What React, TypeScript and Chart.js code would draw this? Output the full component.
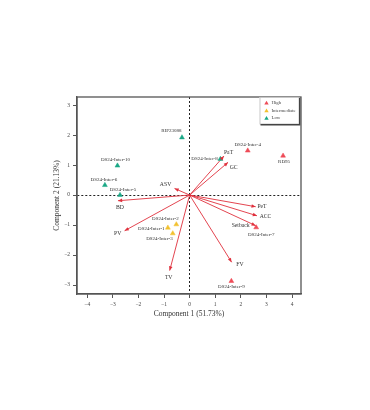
import { useEffect, useRef } from "react";
import { Chart, registerables } from "chart.js";

Chart.register(...registerables);

// ---------- data ----------
const groupNames = ["High", "Intermediate", "Low"];

const highNames = ["DS24-Inter-4", "RD95", "DS24-Inter-7", "DS24-Inter-9"];
const highX = [2.27, 3.65, 2.6, 1.63];
const highY = [1.48, 1.31, -1.08, -2.87];

const interNames = ["DS24-Inter-2", "DS24-Inter-1", "DS24-Inter-3"];
const interX = [-0.52, -0.85, -0.66];
const interY = [-0.98, -1.09, -1.28];

const lowNames = ["RIP23088", "DS24-Inter-10", "DS24-Inter-6", "DS24-Inter-5", "DS24-Inter-8"];
const lowX = [-0.3, -2.82, -3.31, -2.72, 1.2];
const lowY = [1.92, 0.98, 0.33, 0.0, 1.2];

const varNames = ["PaT", "GC", "ASV", "BD", "PV", "TV", "PeT", "ACC", "Setback", "FV"];
const varX = [1.34, 1.5, -0.59, -2.8, -2.54, -0.78, 2.58, 2.63, 2.58, 1.64];
const varY = [1.3, 1.09, 0.22, -0.19, -1.19, -2.52, -0.39, -0.69, -1.02, -2.24];

const xTitle = "Component 1 (51.73%)";
const yTitle = "Component 2 (21.13%)";

// ---------- styles / label placement ----------
const FONT = "'Liberation Serif', 'DejaVu Serif', serif";
const COLORS = ["#ee4b57", "#f2c12e", "#1aa886"];
const ARROW = "#e0303c";

type Place = [CanvasTextAlign, number, number];
const labelPlace: Record<string, Place> = {
  "DS24-Inter-10": ["center", -2, -5.5],
  "DS24-Inter-6": ["center", -1, -5.5],
  "DS24-Inter-5": ["center", 3, -5.5],
  RIP23088: ["right", -0.5, -6.5],
  "DS24-Inter-8": ["right", -2.5, 0],
  "DS24-Inter-4": ["center", 0, -5.7],
  RD95: ["center", 1, 5.6],
  "DS24-Inter-2": ["right", 2.3, -5.3],
  "DS24-Inter-1": ["right", -3.3, 0.6],
  "DS24-Inter-3": ["right", 0, 5.7],
  "DS24-Inter-7": ["center", 5, 7.5],
  "DS24-Inter-9": ["center", 0, 5.7],
  PaT: ["left", 0, -3.7],
  GC: ["left", 1.7, 5],
  ASV: ["right", -3.3, -4.3],
  BD: ["center", 2, 6.6],
  PV: ["right", -3.3, 2.6],
  TV: ["center", -1, 6.6],
  PeT: ["left", 1.7, -0.7],
  ACC: ["left", 2.7, 1],
  Setback: ["right", -6, 0],
  FV: ["left", 4.7, 2],
};

const minus = (v: number) => (v < 0 ? "\u2212" + Math.abs(v) : String(v));

const pts = (xs: number[], ys: number[]) => xs.map((x, i) => ({ x, y: ys[i] }));

const loadingSegments = () => {
  const out: any[] = [];
  varX.forEach((x, i) => {
    out.push({ x: 0, y: 0 }, { x, y: varY[i] }, { x: null, y: null });
  });
  return out;
};

const overlay = {
  id: "overlay",
  beforeDatasetsDraw(chart: any) {
    const { ctx, chartArea: a } = chart;
    ctx.save();
    ctx.strokeStyle = "#555";
    ctx.lineWidth = 1.3;
    ctx.strokeRect(a.left, a.top, a.right - a.left, a.bottom - a.top);
    ctx.restore();
  },
  afterDatasetsDraw(chart: any) {
    const { ctx } = chart;
    const xs = chart.scales.x;
    const ys = chart.scales.y;
    ctx.save();
    // arrow heads
    const ox = xs.getPixelForValue(0);
    const oy = ys.getPixelForValue(0);
    ctx.fillStyle = ARROW;
    varX.forEach((vx, i) => {
      const tx = xs.getPixelForValue(vx);
      const ty = ys.getPixelForValue(varY[i]);
      const ang = Math.atan2(ty - oy, tx - ox);
      const L = 4.2, W = 1.8;
      ctx.beginPath();
      ctx.moveTo(tx, ty);
      ctx.lineTo(tx - L * Math.cos(ang) + W * Math.sin(ang), ty - L * Math.sin(ang) - W * Math.cos(ang));
      ctx.lineTo(tx - L * Math.cos(ang) - W * Math.sin(ang), ty - L * Math.sin(ang) + W * Math.cos(ang));
      ctx.closePath();
      ctx.fill();
    });
    // variable labels
    ctx.fillStyle = "#333";
    ctx.textBaseline = "middle";
    ctx.font = `5.7px ${FONT}`;
    varNames.forEach((n, i) => {
      const p = labelPlace[n];
      ctx.textAlign = p[0];
      ctx.fillText(n, xs.getPixelForValue(varX[i]) + p[1], ys.getPixelForValue(varY[i]) + p[2]);
    });
    // point labels
    ctx.font = `5px ${FONT}`;
    const groups: [string[], number[], number[]][] = [
      [highNames, highX, highY],
      [interNames, interX, interY],
      [lowNames, lowX, lowY],
    ];
    groups.forEach(([names, gx, gy]) => {
      names.forEach((n, i) => {
        const p = labelPlace[n];
        ctx.textAlign = p[0];
        ctx.fillText(n, xs.getPixelForValue(gx[i]) + p[1], ys.getPixelForValue(gy[i]) + p[2]);
      });
    });
    ctx.restore();
  },
  afterDraw(chart: any) {
    const { ctx, chartArea: a } = chart;
    const w = 39, h = 26.5;
    const lx = a.right - w - 2.5, ly = a.top;
    ctx.save();
    ctx.fillStyle = "#fff";
    ctx.fillRect(lx, ly, w, h);
    ctx.strokeStyle = "#bbb";
    ctx.lineWidth = 0.8;
    ctx.strokeRect(lx + 0.5, ly + 0.5, w, h);
    ctx.strokeStyle = "#444";
    ctx.lineWidth = 1.4;
    ctx.beginPath();
    ctx.moveTo(lx + w + 1.2, ly + 1);
    ctx.lineTo(lx + w + 1.2, ly + h + 1.2);
    ctx.lineTo(lx + 1, ly + h + 1.2);
    ctx.stroke();
    ctx.font = `4.8px ${FONT}`;
    ctx.textBaseline = "middle";
    ctx.textAlign = "left";
    groupNames.forEach((g, i) => {
      const cy = ly + 6 + i * 7.6;
      const cx = lx + 7;
      ctx.fillStyle = COLORS[i];
      ctx.beginPath();
      ctx.moveTo(cx, cy - 2.2);
      ctx.lineTo(cx + 2.2, cy + 1.6);
      ctx.lineTo(cx - 2.2, cy + 1.6);
      ctx.closePath();
      ctx.fill();
      ctx.fillStyle = "#444";
      ctx.fillText(g, cx + 5, cy);
    });
    ctx.restore();
  },
};

export default function App() {
  const ref = useRef<HTMLCanvasElement | null>(null);
  useEffect(() => {
    if (!ref.current) return;
    const gridColor = (c: any) => (c.tick && c.tick.value === 0 ? "#222" : "rgba(0,0,0,0)");
    const chart = new Chart(ref.current, {
      type: "scatter",
      data: {
        datasets: [
          {
            label: "loadings",
            data: loadingSegments(),
            showLine: true,
            spanGaps: false,
            borderColor: ARROW,
            borderWidth: 0.9,
            pointRadius: 0,
            order: 2,
          } as any,
          {
            label: groupNames[0],
            data: pts(highX, highY),
            pointStyle: "triangle",
            pointRadius: 2.8,
            backgroundColor: COLORS[0],
            borderColor: COLORS[0],
            borderWidth: 0.5,
            order: 1,
          },
          {
            label: groupNames[1],
            data: pts(interX, interY),
            pointStyle: "triangle",
            pointRadius: 2.8,
            backgroundColor: COLORS[1],
            borderColor: COLORS[1],
            borderWidth: 0.5,
            order: 1,
          },
          {
            label: groupNames[2],
            data: pts(lowX, lowY),
            pointStyle: "triangle",
            pointRadius: 2.8,
            backgroundColor: COLORS[2],
            borderColor: COLORS[2],
            borderWidth: 0.5,
            order: 1,
          },
        ],
      },
      options: {
        responsive: false,
        animation: false,
        devicePixelRatio: 1,
        layout: { padding: { left: 40, top: 97, right: 69, bottom: 86 } },
        plugins: { legend: { display: false }, tooltip: { enabled: false } },
        scales: {
          x: {
            type: "linear",
            position: "bottom",
            min: -4.4,
            max: 4.35,
            afterFit: (s: any) => {
              s.height = 30;
            },
            ticks: {
              stepSize: 1,
              includeBounds: false,
              autoSkip: false,
              maxRotation: 0,
              padding: 3,
              color: "#444",
              font: { family: FONT, size: 5.5 },
              callback: (v: any) => minus(Number(v)),
            },
            grid: { color: gridColor, lineWidth: 1, tickColor: "#555", tickLength: 4, tickWidth: 1 },
            border: { display: true, color: "#555", width: 1.3, dash: [2, 2] },
            title: {
              display: true,
              text: xTitle,
              color: "#333",
              font: { family: FONT, size: 7.5 },
              padding: { top: 0, bottom: 5 },
            },
          },
          y: {
            type: "linear",
            position: "left",
            min: -3.3,
            max: 3.27,
            afterFit: (s: any) => {
              s.width = 37;
            },
            ticks: {
              stepSize: 1,
              includeBounds: false,
              autoSkip: false,
              padding: 3,
              color: "#444",
              font: { family: FONT, size: 5.5 },
              callback: (v: any) => minus(Number(v)),
            },
            grid: { color: gridColor, lineWidth: 1, tickColor: "#555", tickLength: 4, tickWidth: 1 },
            border: { display: true, color: "#555", width: 1.3, dash: [2, 2] },
            title: {
              display: true,
              text: yTitle,
              color: "#333",
              font: { family: FONT, size: 7.5 },
              padding: { top: 13, bottom: 0 },
            },
          },
        },
      },
      plugins: [overlay],
    } as any);
    return () => chart.destroy();
  }, []);
  return (
    <div style={{ position: "absolute", left: 0, top: 0, width: 370, height: 410, background: "#fff" }}>
      <canvas ref={ref} width={370} height={410} style={{ width: 370, height: 410, display: "block" }} />
    </div>
  );
}
